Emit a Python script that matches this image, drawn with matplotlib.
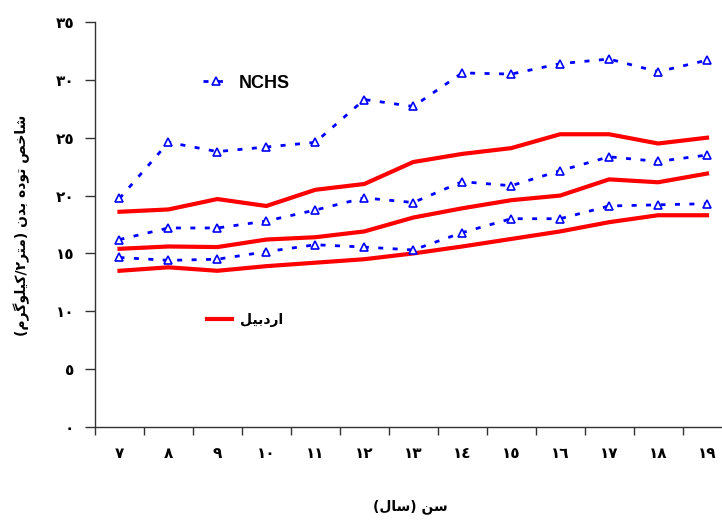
import matplotlib
matplotlib.use('Agg')
import matplotlib.pyplot as plt
from matplotlib.lines import Line2D

# age groups (years)
ages = [7, 8, 9, 10, 11, 12, 13, 14, 15, 16, 17, 18, 19]

# BMI curves for Ardabil (red) and NCHS reference (blue, dashed)
ardabil_low = [13.5, 13.8, 13.5, 13.9, 14.2, 14.5, 15.0, 15.6, 16.25, 16.9, 17.7, 18.3, 18.3]
ardabil_mid = [15.4, 15.6, 15.55, 16.2, 16.4, 16.9, 18.1, 18.9, 19.6, 20.0, 21.4, 21.15, 21.9]
ardabil_high = [18.6, 18.8, 19.7, 19.1, 20.5, 21.0, 22.9, 23.6, 24.1, 25.3, 25.3, 24.5, 25.0]
nchs_low = [14.65, 14.4, 14.5, 15.15, 15.75, 15.55, 15.3, 16.8, 18.0, 18.0, 19.1, 19.2, 19.3]
nchs_mid = [16.2, 17.2, 17.2, 17.8, 18.75, 19.8, 19.4, 21.2, 20.85, 22.15, 23.35, 22.95, 23.5]
nchs_high = [19.75, 24.6, 23.8, 24.2, 24.6, 28.3, 27.7, 30.6, 30.5, 31.4, 31.8, 30.7, 31.7]

y_ticks = [0, 5, 10, 15, 20, 25, 30, 35]

xlabel = 'سن (سال)'
ylabel = 'شاخص توده بدن (متر۲/کیلوگرم)'
label_ardabil = 'اردبیل'
label_nchs = 'NCHS'

# matplotlib has no arabic shaping -> do it by hand (isolated, final, initial, medial)
FORMS = {
    'ا': ('\uFE8D', '\uFE8E'),
    'ب': ('\uFE8F', '\uFE90', '\uFE91', '\uFE92'),
    'ت': ('\uFE95', '\uFE96', '\uFE97', '\uFE98'),
    'خ': ('\uFEA5', '\uFEA6', '\uFEA7', '\uFEA8'),
    'د': ('\uFEA9', '\uFEAA'),
    'ر': ('\uFEAD', '\uFEAE'),
    'س': ('\uFEB1', '\uFEB2', '\uFEB3', '\uFEB4'),
    'ش': ('\uFEB5', '\uFEB6', '\uFEB7', '\uFEB8'),
    'ص': ('\uFEB9', '\uFEBA', '\uFEBB', '\uFEBC'),
    'ل': ('\uFEDD', '\uFEDE', '\uFEDF', '\uFEE0'),
    'م': ('\uFEE1', '\uFEE2', '\uFEE3', '\uFEE4'),
    'ن': ('\uFEE5', '\uFEE6', '\uFEE7', '\uFEE8'),
    'ه': ('\uFEE9', '\uFEEA', '\uFEEB', '\uFEEC'),
    'و': ('\uFEED', '\uFEEE'),
    'ک': ('\uFB8E', '\uFB8F', '\uFB90', '\uFB91'),
    'گ': ('\uFB92', '\uFB93', '\uFB94', '\uFB95'),
    'ی': ('\uFBFC', '\uFBFD', '\uFBFE', '\uFBFF'),
}


def farsi(s):
    out = []
    for i, c in enumerate(s):
        f = FORMS.get(c)
        if f is None:
            out.append({'(': ')', ')': '('}.get(c, c))
            continue
        p = FORMS.get(s[i - 1]) if i > 0 else None
        n = FORMS.get(s[i + 1]) if i + 1 < len(s) else None
        a = p is not None and len(p) == 4
        b = len(f) == 4 and n is not None
        out.append(f[(3 if a else 2) if b else (1 if a else 0)])
    return ''.join(reversed(out))


def digits(v):
    return ''.join(chr(0x0660 + int(d)) for d in str(v))


plt.rcParams['font.family'] = ['DejaVu Sans']

fig = plt.figure(figsize=(7.22, 5.2), dpi=100)
ax = fig.add_axes([95 / 722, 93 / 520, 636.5 / 722, 405 / 520])

x = list(range(len(ages)))
red = '#ff0000'
blue = '#0000ff'
dash = (1.8, 3.4)
for ys in [ardabil_low, ardabil_mid, ardabil_high]:
    ax.plot(x, ys, color=red, lw=3, solid_joinstyle='miter', zorder=2)
for ys in [nchs_low, nchs_mid, nchs_high]:
    ax.plot(x, ys, color=blue, lw=2, dashes=dash, marker='^', ms=6,
            mfc='white', mec=blue, mew=1.2, zorder=3)

ax.set_xlim(-0.5, len(ages) - 0.5)
ax.set_ylim(0, 35)

for s in ['top', 'right']:
    ax.spines[s].set_visible(False)
for s in ['left', 'bottom']:
    ax.spines[s].set_linewidth(1)
    ax.spines[s].set_color('#333333')

ax.set_yticks(y_ticks)
ax.set_yticklabels([digits(v) for v in y_ticks], fontsize=11, fontweight='bold')
ax.tick_params(axis='y', direction='out', length=7, width=1, pad=8, color='#333333')

# ticks between categories, labels centered on them
ax.set_xticks([i - 0.5 for i in range(len(ages) + 1)])
ax.set_xticklabels([])
ax.set_xticks(x, minor=True)
ax.set_xticklabels([digits(a) for a in ages], minor=True, fontsize=11, fontweight='bold')
ax.tick_params(axis='x', which='major', direction='out', length=6, width=1, color='#333333')
ax.tick_params(axis='x', which='minor', length=0, pad=14)

fig.text(410 / 722, 1 - 507 / 520, farsi(xlabel), ha='center', va='center',
         fontsize=10, fontweight='bold')
fig.text(22 / 722, 1 - 225 / 520, farsi(ylabel), ha='center', va='center',
         rotation=90, fontsize=10, fontweight='bold')

h_nchs = Line2D([], [], color=blue, lw=2, dashes=dash, marker='^', ms=6,
                mfc='white', mec=blue, mew=1.2)
h_ard = Line2D([], [], color=red, lw=3)

leg1 = fig.legend([h_nchs], [label_nchs], loc='center left',
                  bbox_to_anchor=(203 / 722, 1 - 83 / 520), frameon=False,
                  borderpad=0, borderaxespad=0, handlelength=1.4, handletextpad=0.6,
                  numpoints=1,
                  prop={'family': 'Liberation Sans', 'weight': 'bold', 'size': 13})
leg2 = fig.legend([h_ard], [farsi(label_ardabil)], loc='center left',
                  bbox_to_anchor=(207 / 722, 1 - 320 / 520), frameon=False,
                  borderpad=0, borderaxespad=0, handlelength=1.8, handletextpad=0.6,
                  prop={'family': 'DejaVu Sans', 'weight': 'bold', 'size': 10})

fig.savefig('out.png', dpi=100)
